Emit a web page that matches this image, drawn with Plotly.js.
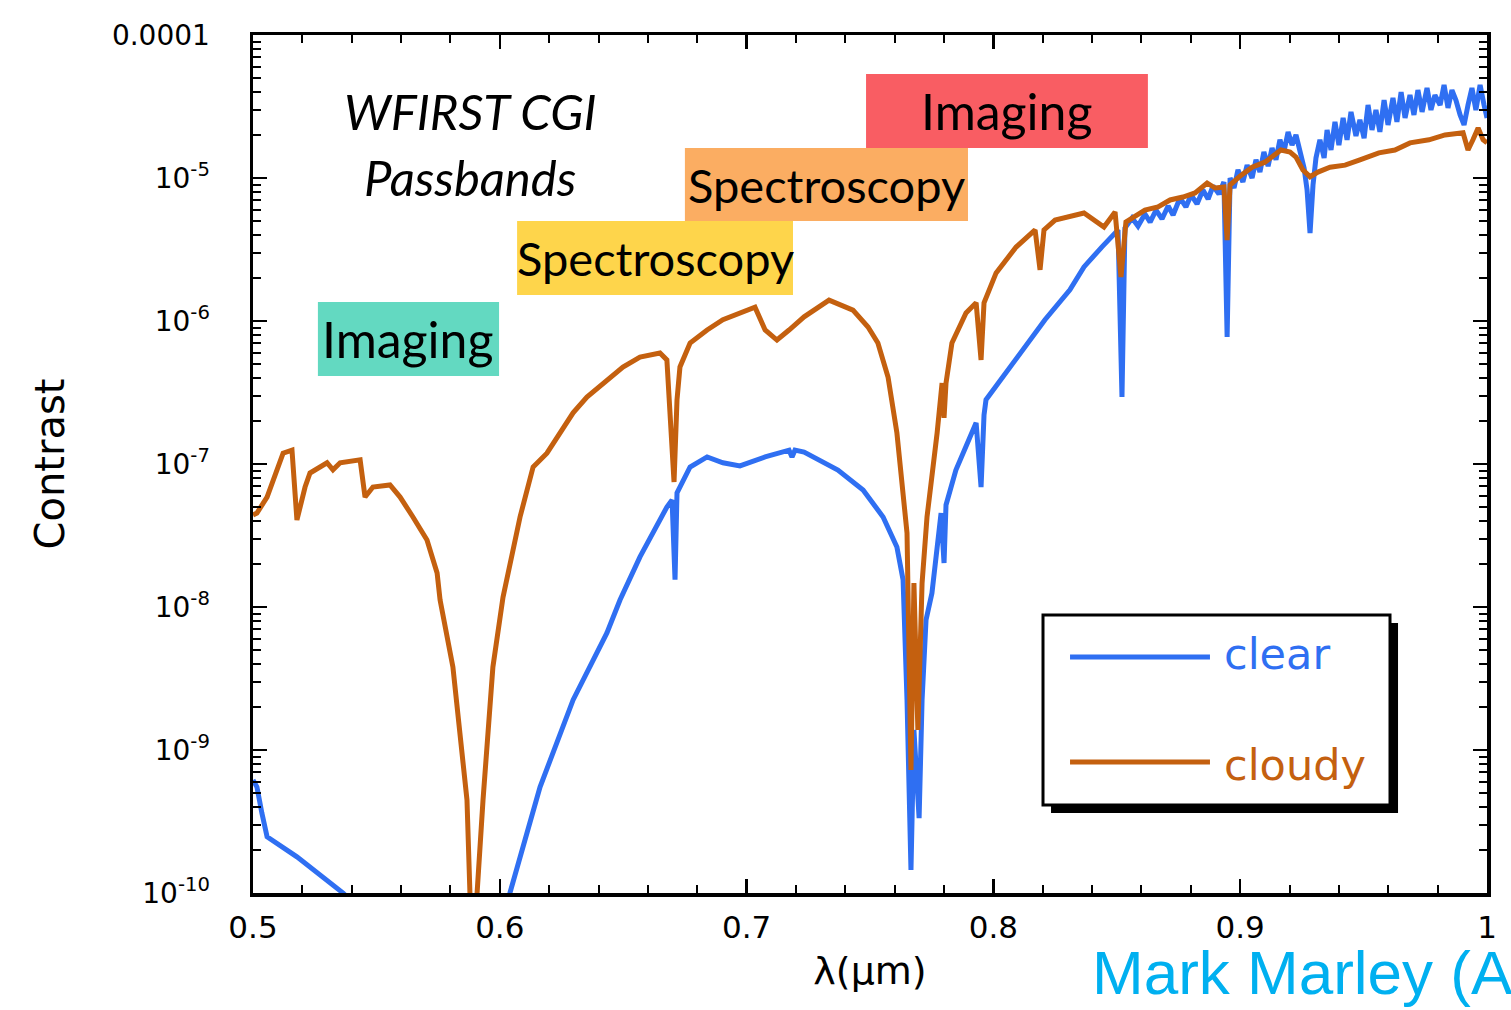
<!DOCTYPE html>
<html>
<head>
<meta charset="utf-8">
<script src="https://cdn.plot.ly/plotly-3.0.1.min.js"></script>
<style>
html,body{margin:0;padding:0;background:#fff;}
#chart{width:1511px;height:1010px;}
</style>
</head>
<body>
<div id="chart"></div>
<script>
// ---- data ----
const wavelength_clear = [
  0.5000,0.5016,0.5036,0.5057,0.5178,0.5271,0.5365,0.5413,0.5891,0.6041,
  0.6163,0.6297,0.6434,0.6487,0.6568,0.6677,0.6698,0.6710,0.6718,0.6771,
  0.6840,0.6904,0.6973,0.7075,0.7172,0.7184,0.7196,0.7233,0.7370,0.7472,
  0.7553,0.7609,0.7634,0.7650,0.7666,0.7678,0.7699,0.7711,0.7727,0.7751,
  0.7788,0.7800,0.7808,0.7848,0.7930,0.7950,0.7962,0.7970,0.8092,0.8209,
  0.8310,0.8367,0.8440,0.8505,0.8521,
  0.8533,0.8562,0.8586,0.8614,0.8635,0.8659,0.8683,0.8708,0.8728,0.8756,
  0.8780,0.8801,0.8825,0.8849,0.8870,0.8890,0.8914,0.8934,0.8947,0.8959,
  0.8975,0.8991,0.9011,0.9028,0.9048,0.9064,0.9080,0.9096,0.9113,0.9129,
  0.9145,0.9161,0.9177,0.9194,0.9210,0.9226,0.9242,0.9259,0.9271,0.9283,
  0.9295,0.9307,0.9323,0.9340,0.9352,0.9368,0.9384,0.9400,0.9417,0.9433,
  0.9449,0.9469,0.9485,0.9502,0.9518,0.9534,0.9550,0.9566,0.9583,0.9599,
  0.9619,0.9635,0.9652,0.9668,0.9688,0.9704,0.9720,0.9737,0.9757,0.9773,
  0.9789,0.9810,0.9826,0.9842,0.9858,0.9874,0.9891,0.9907,0.9923,0.9939,
  0.9955,0.9972,0.9988,1.0000
];
const contrast_clear = [
  6.17e-10,5.51e-10,3.62e-10,2.47e-10,1.79e-10,1.34e-10,1.00e-10,8.2e-11,3.0e-11,1.00e-10,
  5.51e-10,2.24e-9,6.58e-9,1.12e-8,2.24e-8,5.00e-8,5.60e-8,1.55e-8,6.27e-8,9.53e-8,
  1.12e-7,1.02e-7,9.69e-8,1.12e-7,1.25e-7,1.12e-7,1.25e-7,1.21e-7,9.08e-8,6.58e-8,
  4.26e-8,2.63e-8,1.55e-8,2.24e-9,1.45e-10,1.38e-9,3.34e-10,2.24e-9,8.11e-9,1.25e-8,
  4.54e-8,2.03e-8,5.17e-8,9.08e-8,1.94e-7,6.90e-8,2.20e-7,2.81e-7,5.34e-7,1.02e-6,
  1.65e-6,2.39e-6,3.30e-6,4.33e-6,2.94e-7,
  4.47e-6,5.25e-6,4.61e-6,5.60e-6,4.92e-6,5.97e-6,5.17e-6,6.37e-6,5.51e-6,7.25e-6,
  6.27e-6,7.61e-6,6.58e-6,8.24e-6,7.13e-6,8.79e-6,7.73e-6,9.38e-6,7.73e-7,1.00e-5,
  8.51e-6,1.14e-5,9.38e-6,1.23e-5,1.00e-5,1.34e-5,1.10e-5,1.52e-5,1.21e-5,1.62e-5,
  1.34e-5,1.85e-5,1.52e-5,2.10e-5,1.70e-5,2.00e-5,1.57e-5,1.17e-5,8.24e-6,4.12e-6,
  8.93e-6,1.38e-5,1.85e-5,1.38e-5,2.17e-5,1.57e-5,2.47e-5,1.70e-5,2.63e-5,1.85e-5,
  2.90e-5,1.97e-5,2.55e-5,1.90e-5,3.24e-5,2.17e-5,2.99e-5,2.10e-5,3.51e-5,2.35e-5,
  3.63e-5,2.47e-5,3.99e-5,2.63e-5,3.80e-5,2.76e-5,4.12e-5,2.90e-5,4.26e-5,2.99e-5,
  3.80e-5,3.24e-5,4.47e-5,3.09e-5,4.12e-5,3.51e-5,2.76e-5,2.35e-5,3.24e-5,4.26e-5,
  2.99e-5,4.47e-5,3.24e-5,2.63e-5
];
const wavelength_cloudy = [
  0.5000,0.5016,0.5057,0.5122,0.5158,0.5178,0.5211,0.5231,0.5300,0.5324,
  0.5353,0.5434,0.5454,0.5486,0.5555,0.5596,0.5648,0.5705,0.5746,0.5758,
  0.5810,0.5867,0.5879,0.5891,0.5908,0.5932,0.5972,0.6013,0.6082,0.6135,
  0.6191,0.6244,0.6297,0.6353,0.6434,0.6499,0.6568,0.6649,0.6677,0.6706,
  0.6718,0.6730,0.6771,0.6840,0.6904,0.6973,0.7034,0.7075,0.7123,0.7172,
  0.7233,0.7334,0.7431,0.7492,0.7532,0.7573,0.7609,0.7650,0.7666,0.7678,
  0.7694,0.7711,0.7731,0.7772,0.7792,0.7800,0.7808,0.7832,0.7889,0.7930,
  0.7950,0.7962,0.8011,0.8092,0.8169,0.8189,0.8205,0.8250,0.8367,0.8448,
  0.8493,0.8517,0.8537,0.8570,0.8614,0.8667,0.8716,0.8768,0.8817,0.8866,
  0.8898,0.8934,0.8947,0.8959,0.8999,0.9048,0.9100,0.9165,0.9202,0.9226,
  0.9254,0.9283,0.9315,0.9364,0.9425,0.9485,0.9562,0.9627,0.9688,0.9765,
  0.9830,0.9903,0.9923,0.9943,0.9964,0.9984,1.0000
];
const contrast_cloudy = [
  4.40e-8,4.54e-8,5.87e-8,1.19e-7,1.25e-7,4.06e-8,6.90e-8,8.65e-8,1.02e-7,9.10e-8,
  1.02e-7,1.07e-7,5.87e-8,6.90e-8,7.13e-8,5.87e-8,4.26e-8,2.94e-8,1.73e-8,1.12e-8,
  3.80e-9,4.47e-10,1.00e-10,4.0e-11,1.00e-10,4.47e-10,3.80e-9,1.17e-8,4.26e-8,9.53e-8,
  1.19e-7,1.65e-7,2.28e-7,2.94e-7,3.87e-7,4.77e-7,5.60e-7,5.97e-7,5.34e-7,7.48e-8,
  2.81e-7,4.77e-7,7.02e-7,8.65e-7,1.02e-6,1.14e-6,1.25e-6,8.65e-7,7.36e-7,8.65e-7,
  1.07e-6,1.40e-6,1.19e-6,9.08e-7,7.02e-7,4.06e-7,1.65e-7,3.29e-8,7.24e-10,1.47e-8,
  1.38e-9,1.47e-8,4.26e-8,1.65e-7,3.68e-7,2.10e-7,3.68e-7,7.02e-7,1.14e-6,1.34e-6,
  5.34e-7,1.34e-6,2.17e-6,3.29e-6,4.33e-6,2.28e-6,4.33e-6,5.08e-6,5.69e-6,4.54e-6,
  5.78e-6,2.03e-6,4.92e-6,5.34e-6,5.97e-6,6.27e-6,7.02e-6,7.36e-6,7.86e-6,9.23e-6,
  8.51e-6,8.65e-6,3.68e-6,8.93e-6,1.03e-5,1.19e-5,1.29e-5,1.57e-5,1.52e-5,1.40e-5,
  1.14e-5,1.02e-5,1.10e-5,1.19e-5,1.23e-5,1.34e-5,1.50e-5,1.57e-5,1.76e-5,1.85e-5,
  2.00e-5,2.07e-5,1.57e-5,1.85e-5,2.24e-5,1.85e-5,1.76e-5
];
const ytick_values = [1e-10,1e-9,1e-8,1e-7,1e-6,1e-5,1e-4];
const ytick_labels = ['10<sup>-10</sup>','10<sup>-9</sup>','10<sup>-8</sup>','10<sup>-7</sup>','10<sup>-6</sup>','10<sup>-5</sup>','0.0001'];
const series_names = ['clear','cloudy'];
const series_colors = ['#2f6ff2','#c4600f'];

// passbands (label, lambda start, lambda end, colour)
const band_labels = ['Imaging','Spectroscopy','Spectroscopy','Imaging'];
const band_start = [0.5263,0.6070,0.6750,0.7484];
const band_end = [0.5997,0.7188,0.7897,0.8626];
const band_colors = ['#63d9c1','#fed54b','#fbad62','#f95d63'];
const band_rows = [[0.6026,0.6888],[0.6970,0.7832],[0.7832,0.8683],[0.8683,0.9545]];

const traces = [
  {x: wavelength_clear, y: contrast_clear, name: series_names[0], type:'scatter', mode:'lines',
   line:{color:series_colors[0], width:5}},
  {x: wavelength_cloudy, y: contrast_cloudy, name: series_names[1], type:'scatter', mode:'lines',
   line:{color:series_colors[1], width:5}}
];

const shapes = [];
const annotations = [];
for (let i=0;i<band_labels.length;i++){
  shapes.push({type:'rect', xref:'x', yref:'paper', x0:band_start[i], x1:band_end[i],
    y0:band_rows[i][0], y1:band_rows[i][1], fillcolor:band_colors[i], line:{width:0}, layer:'above'});
  annotations.push({xref:'x', yref:'paper', x:(band_start[i]+band_end[i])/2, y:(band_rows[i][0]+band_rows[i][1])/2,
    text:band_labels[i], showarrow:false, xanchor:'center', yanchor:'middle',
    font:{family:'Lato, Open Sans, sans-serif', size:(band_labels[i]==='Imaging'?50:47), color:'#000'}});
}
annotations.push({xref:'paper', yref:'paper', x:0.176, y:0.912, text:'<i>WFIRST CGI</i>', showarrow:false,
  xanchor:'center', yanchor:'middle', font:{family:'Lato, sans-serif', size:49, color:'#000'}});
annotations.push({xref:'paper', yref:'paper', x:0.176, y:0.835, text:'<i>Passbands</i>', showarrow:false,
  xanchor:'center', yanchor:'middle', font:{family:'Lato, sans-serif', size:49, color:'#000'}});

// hand-drawn legend box with shadow
shapes.push({type:'rect', xref:'paper', yref:'paper', x0:0.6467, x1:0.9279, y0:0.0932, y1:0.3147,
  fillcolor:'#000', line:{width:0}, layer:'above'});
shapes.push({type:'rect', xref:'paper', yref:'paper', x0:0.6402, x1:0.9214, y0:0.1026, y1:0.3240,
  fillcolor:'#fff', line:{color:'#000', width:3}, layer:'above'});
const legend_y = [0.2751, 0.1527];
for (let i=0;i<2;i++){
  shapes.push({type:'line', xref:'paper', yref:'paper', x0:0.6621, x1:0.7755, y0:legend_y[i], y1:legend_y[i],
    line:{color:series_colors[i], width:5}, layer:'above'});
  annotations.push({xref:'paper', yref:'paper', x:0.7853, y:legend_y[i] + (i===1?-0.003:0.004), text:series_names[i], showarrow:false,
    xanchor:'left', yanchor:'middle', font:{family:'DejaVu Sans, sans-serif', size:43, color:series_colors[i]}});
}
annotations.push({xref:'paper', yref:'paper', x:0.678, y:-0.093, text:'Mark Marley (A', showarrow:false,
  xanchor:'left', yanchor:'middle', font:{family:'Liberation Sans, Arial, sans-serif', size:62, color:'#00b0f0'}});

const axisCommon = {
  showline:true, linecolor:'#000', linewidth:3.5, mirror:'allticks',
  ticks:'inside', ticklen:14, tickwidth:2.5, tickcolor:'#000',
  showgrid:false, zeroline:false,
  tickfont:{family:'DejaVu Sans, sans-serif', size:28, color:'#000'}
};

const layout = {
  width:1511, height:1010,
  margin:{l:253, r:24, t:35, b:117},
  paper_bgcolor:'#fff', plot_bgcolor:'#fff',
  showlegend:false,
  xaxis: Object.assign({}, axisCommon, {
    range:[0.5,1.0], dtick:0.1, tick0:0.5, tickformat:'.1~f',
    tickfont:{family:'DejaVu Sans, sans-serif', size:31, color:'#000'},
    minor:{dtick:0.02, ticks:'inside', ticklen:8, tickwidth:2, tickcolor:'#000', showgrid:false},
    ticklabelstandoff:4,
    title:{text:'λ(μm)', standoff:14, font:{family:'DejaVu Sans, sans-serif', size:38, color:'#000'}}
  }),
  yaxis: Object.assign({}, axisCommon, {
    type:'log', range:[-10,-4], tickmode:'array', tickvals:ytick_values, ticktext:ytick_labels,
    minor:{dtick:'D1', ticks:'inside', ticklen:8, tickwidth:2, tickcolor:'#000', showgrid:false},
    ticklabelstandoff:34,
    title:{text:'Contrast', standoff:36, font:{family:'DejaVu Sans, sans-serif', size:40, color:'#000'}}
  }),
  shapes: shapes,
  annotations: annotations
};

Plotly.newPlot('chart', traces, layout, {staticPlot:true, displayModeBar:false});
</script>
</body>
</html>
